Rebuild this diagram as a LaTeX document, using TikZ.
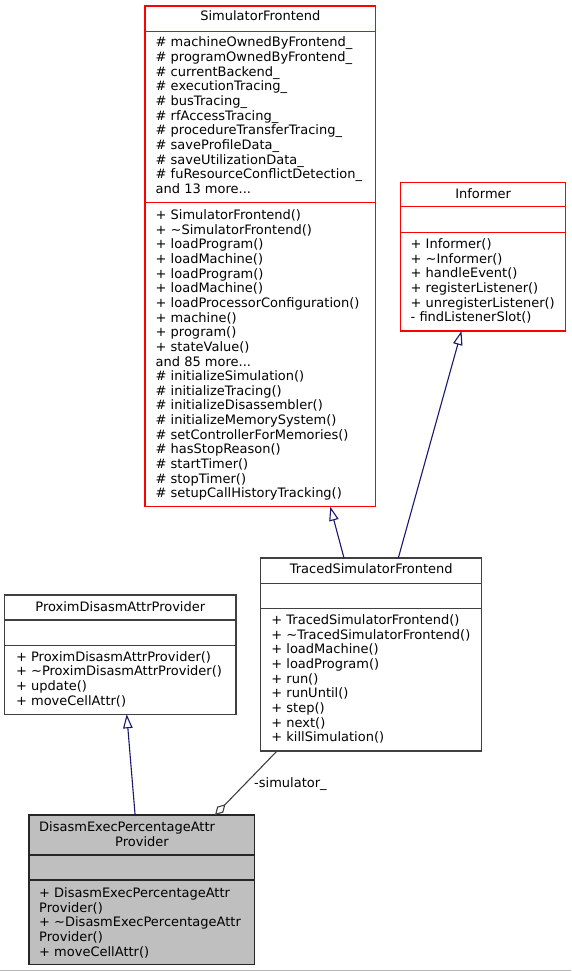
\documentclass[tikz,border=0pt]{standalone}
\usepackage{fontspec}
\setmainfont{DejaVu Sans}
\usetikzlibrary{arrows.meta}
\definecolor{umlred}{HTML}{FF0000}
\definecolor{umlgrey}{HTML}{404040}
\definecolor{umlnavy}{HTML}{191970}
\definecolor{umlfill}{HTML}{BFBFBF}
\definecolor{framegrey}{HTML}{B4B4B4}
\newcommand{\firststrut}{\rule{0pt}{10pt}}
\tikzset{
  every node/.style={font=\fontsize{13}{14.65}\selectfont},
  clsbox/.style={rectangle, draw=umlgrey, line width=1.3pt, inner sep=0pt, outer sep=0pt, anchor=north west, fill=white},
  redbox/.style={clsbox, draw=umlred},
  greybox/.style={clsbox, draw=black!85, fill=umlfill},
  divider/.style={line width=1.3pt, draw=umlgrey},
  reddivider/.style={divider, draw=umlred},
  greydivider/.style={divider, draw=black!85},
  titletext/.style={anchor=base, inner sep=0pt},
  membertext/.style={anchor=north west, inner sep=0pt, align=left},
  inherit/.style={draw=umlnavy, line width=1.1pt, -{Triangle[open, length=14pt, width=9.5pt, line width=1.1pt]}},
  aggregate/.style={draw=umlgrey, line width=1.1pt, -{Diamond[open, length=15pt, width=8.5pt, line width=1.1pt]}},
  edgelabel/.style={anchor=base west, inner sep=0pt},
}
\begin{document}
\begin{tikzpicture}[x=1pt, y=-1pt]
\useasboundingbox (0,0) rectangle (571,971);
\fill[white] (0,0) rectangle (571,971);
\draw[framegrey, line width=1pt] (0,970) -- (571,970);

% SimulatorFrontend
\node[redbox, minimum width=230.7pt, minimum height=500.7pt] (sf) at (145,6) {};
\draw[reddivider] ([yshift=-25.7pt]sf.north west) -- ([yshift=-25.7pt]sf.north east);
\draw[reddivider] ([yshift=-196.7pt]sf.north west) -- ([yshift=-196.7pt]sf.north east);
\node[titletext] (sftitle) at (260.4,21) {SimulatorFrontend};
\node[membertext] (sfattr) at (155.5,36.6) {\firststrut\# machineOwnedByFrontend\_\\
\# programOwnedByFrontend\_\\
\# currentBackend\_\\
\# executionTracing\_\\
\# busTracing\_\\
\# rfAccessTracing\_\\
\# procedureTransferTracing\_\\
\# saveProfileData\_\\
\# saveUtilizationData\_\\
\# fuResourceConflictDetection\_\\
and 13 more...};
\node[membertext] (sfmeth) at (155.5,209.3) {\firststrut+ SimulatorFrontend()\\
+ \textasciitilde SimulatorFrontend()\\
+ loadProgram()\\
+ loadMachine()\\
+ loadProgram()\\
+ loadMachine()\\
+ loadProcessorConfiguration()\\
+ machine()\\
+ program()\\
+ stateValue()\\
and 85 more...\\
\# initializeSimulation()\\
\# initializeTracing()\\
\# initializeDisassembler()\\
\# initializeMemorySystem()\\
\# setControllerForMemories()\\
\# hasStopReason()\\
\# startTimer()\\
\# stopTimer()\\
\# setupCallHistoryTracking()};

% Informer
\node[redbox, minimum width=165pt, minimum height=148.7pt] (inf) at (400.7,182.3) {};
\draw[reddivider] ([yshift=-24.4pt]inf.north west) -- ([yshift=-24.4pt]inf.north east);
\draw[reddivider] ([yshift=-50pt]inf.north west) -- ([yshift=-50pt]inf.north east);
\node[titletext] (inftitle) at (483.2,198.3) {Informer};
\node[membertext] (infmeth) at (410.5,238.3) {\firststrut+ Informer()\\
+ \textasciitilde Informer()\\
+ handleEvent()\\
+ registerListener()\\
+ unregisterListener()\\
- findListenerSlot()};

% TracedSimulatorFrontend
\node[clsbox, minimum width=221pt, minimum height=193pt] (tsf) at (260.7,558) {};
\draw[divider] ([yshift=-25.3pt]tsf.north west) -- ([yshift=-25.3pt]tsf.north east);
\draw[divider] ([yshift=-50.5pt]tsf.north west) -- ([yshift=-50.5pt]tsf.north east);
\node[titletext] (tsftitle) at (371.2,573.6) {TracedSimulatorFrontend};
\node[membertext] (tsfmeth) at (271.2,614.3) {\firststrut+ TracedSimulatorFrontend()\\
+ \textasciitilde TracedSimulatorFrontend()\\
+ loadMachine()\\
+ loadProgram()\\
+ run()\\
+ runUntil()\\
+ step()\\
+ next()\\
+ killSimulation()};

% ProximDisasmAttrProvider
\node[clsbox, minimum width=231.3pt, minimum height=119.3pt] (pda) at (4.7,595) {};
\draw[divider] ([yshift=-25pt]pda.north west) -- ([yshift=-25pt]pda.north east);
\draw[divider] ([yshift=-50.3pt]pda.north west) -- ([yshift=-50.3pt]pda.north east);
\node[titletext] (pdatitle) at (120.3,611) {ProximDisasmAttrProvider};
\node[membertext] (pdameth) at (15.9,651) {\firststrut+ ProximDisasmAttrProvider()\\
+ \textasciitilde ProximDisasmAttrProvider()\\
+ update()\\
+ moveCellAttr()};

% DisasmExecPercentageAttrProvider
\node[greybox, minimum width=225.3pt, minimum height=149.5pt] (dep) at (29,815) {};
\draw[greydivider] ([yshift=-40pt]dep.north west) -- ([yshift=-40pt]dep.north east);
\draw[greydivider] ([yshift=-65pt]dep.north west) -- ([yshift=-65pt]dep.north east);
\node[anchor=base west, inner sep=0pt] (deptitlea) at (39,831.3) {DisasmExecPercentageAttr};
\node[titletext] (deptitleb) at (142,846.3) {Provider};
\node[membertext] (depmeth) at (39,887.3) {\firststrut+ DisasmExecPercentageAttr\\
Provider()\\
+ \textasciitilde DisasmExecPercentageAttr\\
Provider()\\
+ moveCellAttr()};

% connectors
\draw[inherit] ([xshift=83.3pt]tsf.north west) -- ([xshift=185.3pt]sf.south west);
\draw[inherit] ([xshift=137.6pt]tsf.north west) -- ([xshift=60.8pt]inf.south west);
\draw[inherit] ([xshift=106.1pt]dep.north west) -- ([xshift=122pt]pda.south west);
\draw[aggregate] ([xshift=16.3pt]tsf.south west) -- ([xshift=186pt]dep.north west);
\node[edgelabel] (simlabel) at (254,787) {-simulator\_};
\end{tikzpicture}
\end{document}
